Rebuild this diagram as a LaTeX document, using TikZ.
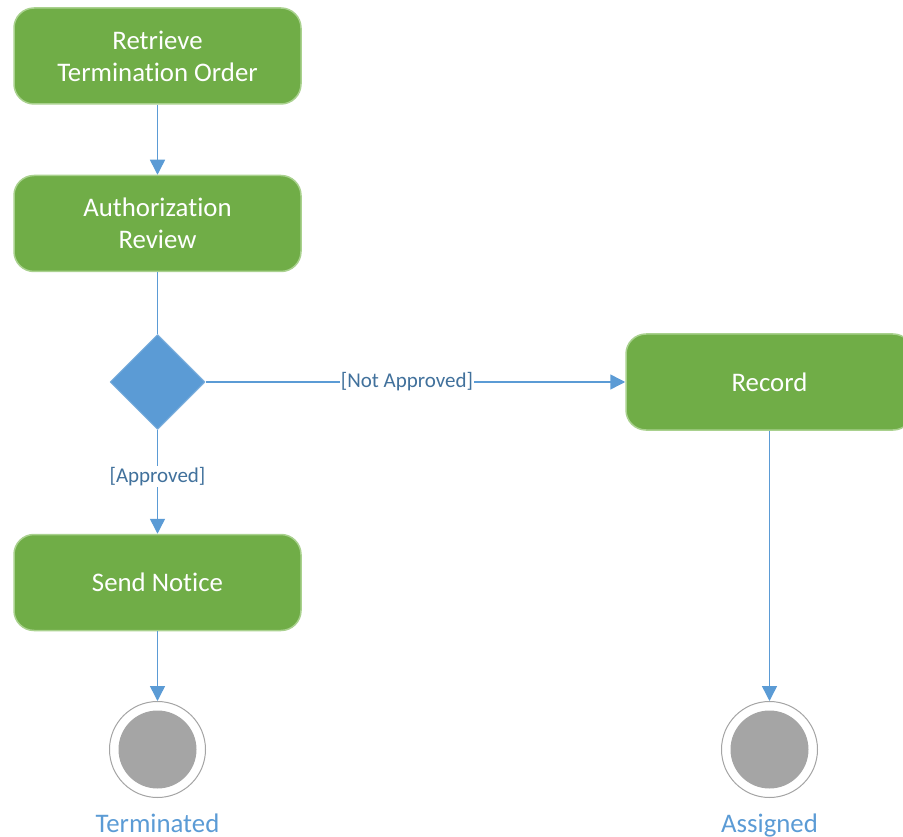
\documentclass[tikz,border=0pt]{standalone}
\usepackage{fontspec}
\setmainfont{Carlito}[Ligatures=NoCommon]
\usetikzlibrary{shapes.geometric,arrows.meta}
\definecolor{actgreen}{HTML}{70AD47}
\definecolor{actborder}{HTML}{A9D18E}
\definecolor{decblue}{HTML}{5B9BD5}
\definecolor{guardblue}{HTML}{41719C}
\definecolor{endgray}{HTML}{A5A5A5}
\begin{document}
\begin{tikzpicture}[x=1pt,y=-1pt,line join=round,>={Triangle[length=15pt,width=15pt]}]
\tikzset{act/.style={rectangle,rounded corners=20pt,draw=actborder,line width=1.5pt,fill=actgreen,text=white,minimum width=287pt,minimum height=96pt,align=center,font=\fontsize{26.8}{32}\selectfont},
  dec/.style={diamond,draw=decblue!80,line width=1pt,fill=decblue,minimum size=95pt,inner sep=0pt},
  final/.style={circle,draw=endgray,line width=1pt,fill=white,minimum size=96pt,
    path picture={\fill[endgray] (path picture bounding box.center) circle (39pt);}},
  endtext/.style={text=decblue,inner sep=0pt,anchor=base,font=\fontsize{26.8}{32}\selectfont},
  flow/.style={draw=decblue,line width=1.5pt},
  guard/.style={fill=white,text=guardblue,inner sep=1pt,font=\fontsize{21}{25}\selectfont}}
\useasboundingbox (0,0) rectangle (903,837);
\clip (0,0) rectangle (903,837);
% activities
\node[act] (ret) at (157.5,56) {Retrieve\\Termination Order};
\node[act] (auth) at (157.5,223.5) {Authorization\\Review};
\node[dec] (dec) at (157.5,382) {};
\node[act] (rec) at (769.5,382) {Record};
\node[act] (send) at (157.5,582.5) {Send Notice};
% final states
\node[final] (term) at (157.5,749.5) {};
\node[final] (asg) at (769.5,749.5) {};
\node[endtext] (termtext) at (157.5,832) {Terminated};
\node[endtext] (asgtext) at (769.5,832) {Assigned};
% flows
\draw[flow,->] (ret) -- (auth);
\draw[flow] (auth) -- (dec);
\draw[flow,->] (dec) -- node[guard,pos=0.48]{[Not Approved]} (rec);
\draw[flow,->] (dec) -- node[guard,pos=0.45]{[Approved]} (send);
\draw[flow,->] (send) -- (term);
\draw[flow,->] (rec) -- (asg);
\end{tikzpicture}
\end{document}
